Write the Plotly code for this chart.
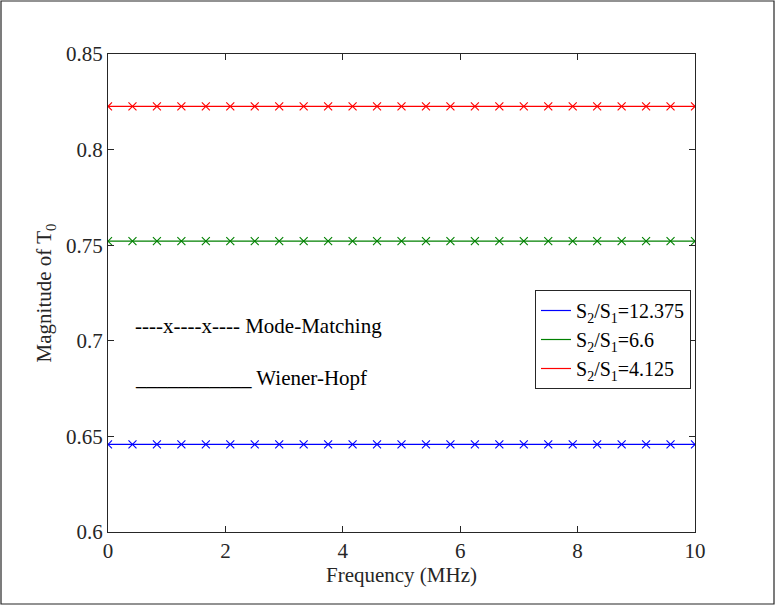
import plotly.graph_objects as go

# Data
freq = [0, 0.4167, 0.8333, 1.25, 1.6667, 2.0833, 2.5, 2.9167, 3.3333, 3.75, 4.1667, 4.5833,
        5.0, 5.4167, 5.8333, 6.25, 6.6667, 7.0833, 7.5, 7.9167, 8.3333, 8.75, 9.1667, 9.5833, 10.0]
ratio_labels = ["S<sub>2</sub>/S<sub>1</sub>=12.375", "S<sub>2</sub>/S<sub>1</sub>=6.6", "S<sub>2</sub>/S<sub>1</sub>=4.125"]
wh_values = [0.6458, 0.7521, 0.8226]        # Wiener-Hopf (constant across frequency)
mm_values = [0.6458, 0.7521, 0.8226]        # Mode-Matching
colors = ["#0000ff", "#008000", "#ff0000"]
yticks = [0.6, 0.65, 0.7, 0.75, 0.8, 0.85]
ytick_labels = ["0.6", "0.65", "0.7", "0.75", "0.8", "0.85"]
xticks = [0, 2, 4, 6, 8, 10]

font_family = "Liberation Serif"
fig = go.Figure()

for lab, wv, c in zip(ratio_labels, wh_values, colors):
    fig.add_trace(go.Scatter(x=freq, y=[wv] * len(freq), mode="lines", name=lab,
                             line=dict(color=c, width=1.2)))
for lab, mv, c in zip(ratio_labels, mm_values, colors):
    fig.add_trace(go.Scatter(x=freq, y=[mv] * len(freq), mode="markers", showlegend=False,
                             marker=dict(symbol="x-thin", size=8, line=dict(color=c, width=1.1), color=c)))

axis_common = dict(showline=True, linecolor="#262626", linewidth=1, mirror="ticks",
                   ticks="inside", ticklen=6, tickcolor="#262626", showgrid=False, zeroline=False,
                   tickfont=dict(family=font_family, size=21, color="#262626"))

fig.update_layout(
    width=775, height=605,
    margin=dict(l=108, r=80, t=54, b=73),
    paper_bgcolor="white", plot_bgcolor="white",
    font=dict(family=font_family, color="#262626"),
    xaxis=dict(range=[0, 10], tickvals=xticks, ticktext=[str(t) for t in xticks],
               title=dict(text="Frequency (MHz)", font=dict(family=font_family, size=21), standoff=4),
               **axis_common),
    yaxis=dict(range=[0.6, 0.85], tickvals=yticks, ticktext=ytick_labels,
               title=dict(text="Magnitude of T<sub>0</sub>", font=dict(family=font_family, size=21), standoff=8),
               **axis_common),
    legend=dict(x=(535 - 108) / 587, y=(532 - 290) / 478, xanchor="left", yanchor="top", bgcolor="white",
                bordercolor="#262626", borderwidth=1,
                font=dict(family=font_family, size=20, color="black"),
                tracegroupgap=0, itemwidth=30),
    showlegend=True,
)

fig.add_annotation(xref="paper", yref="paper", x=(133 - 108) / 587, y=(532 - 326) / 478,
                   xanchor="left", yanchor="middle",
                   text="----x----x---- Mode-Matching", showarrow=False,
                   font=dict(family=font_family, size=21, color="black"))
fig.add_annotation(xref="paper", yref="paper", x=(133 - 108) / 587, y=(532 - 378) / 478,
                   xanchor="left", yanchor="middle",
                   text="___________ Wiener-Hopf", showarrow=False,
                   font=dict(family=font_family, size=21, color="black"))

# outer figure border
fig.add_shape(type="rect", xref="paper", yref="paper",
              x0=(1 - 108) / 587, x1=(774 - 108) / 587, y0=(532 - 604) / 478, y1=(532 - 1) / 478,
              line=dict(color="#262626", width=1.2), layer="below")

fig.write_html("out.html")
